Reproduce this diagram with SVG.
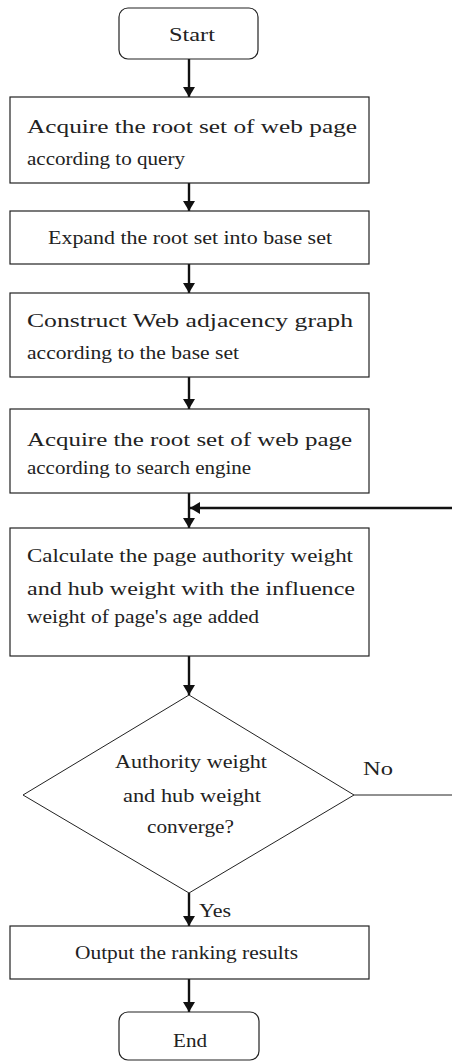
<svg xmlns="http://www.w3.org/2000/svg" width="452" height="1061" viewBox="0 0 452 1061">
<style>
.box{fill:#fff;stroke:#222;stroke-width:1.2}
.dia{fill:#fff;stroke:#222;stroke-width:1}
.t{font-family:"Liberation Serif",serif;font-size:19px;fill:#222}
.c{text-anchor:middle}
.arr{fill:none;stroke:#111;stroke-width:2.4}
.thin{fill:none;stroke:#222;stroke-width:1}
</style>
<defs>
<marker id="ah" viewBox="0 0 10 12" refX="10" refY="6" markerWidth="10" markerHeight="12" markerUnits="userSpaceOnUse" orient="auto">
<path d="M0,0 L10,6 L0,12 z" fill="#111"/>
</marker>
</defs>
<rect width="452" height="1061" fill="#fff"/>
<g id="connectors">
<line class="arr" x1="189" y1="59" x2="189" y2="97" marker-end="url(#ah)"/>
<line class="arr" x1="189" y1="183" x2="189" y2="211" marker-end="url(#ah)"/>
<line class="arr" x1="189" y1="264" x2="189" y2="293" marker-end="url(#ah)"/>
<line class="arr" x1="189" y1="377" x2="189" y2="409" marker-end="url(#ah)"/>
<line class="arr" x1="189" y1="493" x2="189" y2="528" marker-end="url(#ah)"/>
<line class="arr" x1="452" y1="508" x2="190" y2="508" marker-end="url(#ah)"/>
<line class="arr" x1="189" y1="656" x2="189" y2="695" marker-end="url(#ah)"/>
<line class="thin" x1="354" y1="795" x2="452" y2="795"/>
<line class="arr" x1="189" y1="893" x2="189" y2="926" marker-end="url(#ah)"/>
<line class="arr" x1="189" y1="979" x2="189" y2="1012" marker-end="url(#ah)"/>
<text class="t" x="363" y="775" textLength="30" lengthAdjust="spacingAndGlyphs">No</text>
<text class="t" x="199" y="917" textLength="32" lengthAdjust="spacingAndGlyphs">Yes</text>
</g>
<g id="start">
<rect class="box" x="119" y="8" width="139" height="51" rx="9"/>
<text class="t" x="169" y="41" textLength="46" lengthAdjust="spacingAndGlyphs">Start</text>
</g>
<g id="acquire1">
<rect class="box" x="10" y="97" width="359" height="86"/>
<text class="t" x="27" y="133" textLength="330" lengthAdjust="spacingAndGlyphs">Acquire the root set of web page</text>
<text class="t" x="27" y="165" textLength="158" lengthAdjust="spacingAndGlyphs">according to query</text>
</g>
<g id="expand">
<rect class="box" x="10" y="211" width="359" height="53"/>
<text class="t" x="48" y="244" textLength="284" lengthAdjust="spacingAndGlyphs">Expand the root set into base set</text>
</g>
<g id="construct">
<rect class="box" x="10" y="293" width="359" height="84"/>
<text class="t" x="27" y="327" textLength="326" lengthAdjust="spacingAndGlyphs">Construct Web adjacency graph</text>
<text class="t" x="27" y="359" textLength="212" lengthAdjust="spacingAndGlyphs">according to the base set</text>
</g>
<g id="acquire2">
<rect class="box" x="10" y="409" width="359" height="84"/>
<text class="t" x="27" y="446" textLength="325" lengthAdjust="spacingAndGlyphs">Acquire the root set of web page</text>
<text class="t" x="27" y="474" textLength="224" lengthAdjust="spacingAndGlyphs">according to search engine</text>
</g>
<g id="calculate">
<rect class="box" x="10" y="528" width="359" height="128"/>
<text class="t" x="27" y="562" textLength="326" lengthAdjust="spacingAndGlyphs">Calculate the page authority weight</text>
<text class="t" x="27" y="595" textLength="328" lengthAdjust="spacingAndGlyphs">and hub weight with the influence</text>
<text class="t" x="27" y="623" textLength="232" lengthAdjust="spacingAndGlyphs">weight of page's age added</text>
</g>
<g id="decision">
<polygon class="dia" points="189,695 354,795 189,893 23,795"/>
<text class="t" x="115" y="768" textLength="152" lengthAdjust="spacingAndGlyphs">Authority weight</text>
<text class="t" x="123" y="802" textLength="138" lengthAdjust="spacingAndGlyphs">and hub weight</text>
<text class="t" x="147" y="833" textLength="87" lengthAdjust="spacingAndGlyphs">converge?</text>
</g>
<g id="output">
<rect class="box" x="10" y="926" width="359" height="53"/>
<text class="t" x="75" y="959" textLength="223" lengthAdjust="spacingAndGlyphs">Output the ranking results</text>
</g>
<g id="end">
<rect class="box" x="119" y="1012" width="140" height="48" rx="9"/>
<text class="t" x="173" y="1047" textLength="34" lengthAdjust="spacingAndGlyphs">End</text>
</g>
</svg>
